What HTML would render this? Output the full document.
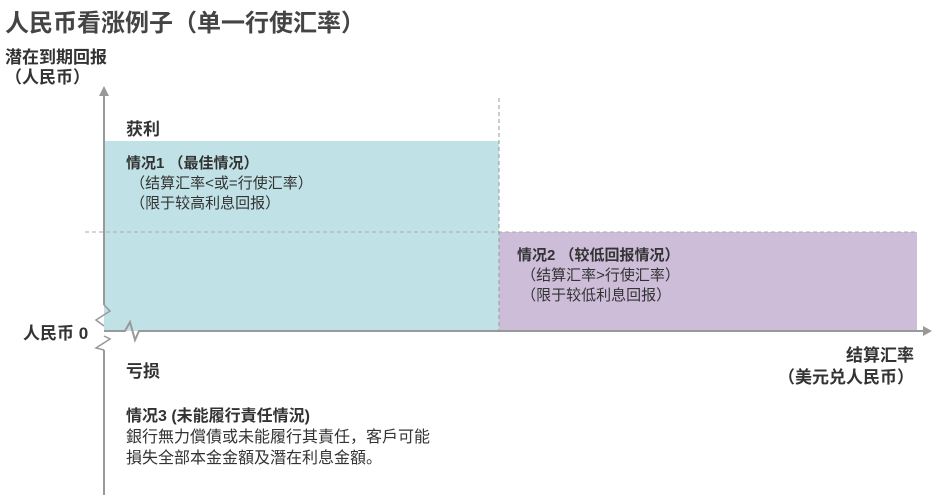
<!DOCTYPE html>
<html><head><meta charset="utf-8"><style>
body{margin:0;width:940px;height:500px;background:#fff;position:relative;overflow:hidden;font-family:"Liberation Sans","Noto Sans CJK SC",sans-serif;color:#333}
.t{position:absolute;white-space:nowrap}
</style></head><body>
<svg width="940" height="500" style="position:absolute;left:0;top:0">
<rect x="104" y="141" width="395" height="190" fill="#c0e1e5"/>
<rect x="499" y="232" width="418" height="99" fill="#cdbdd9"/>
<line x1="85" y1="232" x2="917" y2="232" stroke="#aaa" stroke-dasharray="4,3"/>
<line x1="499" y1="98" x2="499" y2="331" stroke="#999" stroke-dasharray="4,3"/>
<line x1="104" y1="95" x2="104" y2="305" stroke="#999" stroke-width="2"/>
<polygon points="104,86 99,96 109,96" fill="#999"/>
<polyline points="104,305 110,311 96,320 104,326" fill="none" stroke="#999" stroke-width="1.5"/>
<polyline points="104,336 110,339 96,348 104,350" fill="none" stroke="#999" stroke-width="1.5"/>
<line x1="104" y1="350" x2="104" y2="495" stroke="#999" stroke-width="2"/>
<polyline points="104,331 125,331 130,322 135,340 139,331 925,331" fill="none" stroke="#999" stroke-width="2"/>
<polygon points="932,331 923,326 923,336" fill="#999"/>
</svg>
<div class="t" style="left:5px;top:3px;font-size:24px;font-weight:bold;color:#444">人民币看涨例子（单一行使汇率）</div>
<div class="t" style="left:5px;top:43px;font-size:17px;font-weight:bold">潜在到期回报</div>
<div class="t" style="left:5px;top:63px;font-size:17px;font-weight:bold">（人民币）</div>
<div class="t" style="left:126px;top:115px;font-size:17px;font-weight:bold">获利</div>
<div class="t" style="left:126px;top:154px;font-size:15px;line-height:20px"><b>情况1 （最佳情况）</b><br>&nbsp;（结算汇率&lt;或=行使汇率）<br>&nbsp;（限于较高利息回报）</div>
<div class="t" style="left:517px;top:246px;font-size:15px;line-height:20px"><b>情况2 （较低回报情况）</b><br>&nbsp;（结算汇率&gt;行使汇率）<br>&nbsp;（限于较低利息回报）</div>
<div class="t" style="left:23px;top:319px;font-size:17px;font-weight:bold">人民币 0</div>
<div class="t" style="left:126px;top:357px;font-size:17px;font-weight:bold">亏损</div>
<div class="t" style="right:26px;top:345px;font-size:17px;font-weight:bold;text-align:right;line-height:22px">结算汇率<br>（美元兑人民币）</div>
<div class="t" style="left:126px;top:406px;font-size:16px;line-height:21px"><b>情况3 (未能履行責任情況)</b><br>銀行無力償債或未能履行其責任，客戶可能<br>損失全部本金金額及潛在利息金額。</div>
</body></html>
